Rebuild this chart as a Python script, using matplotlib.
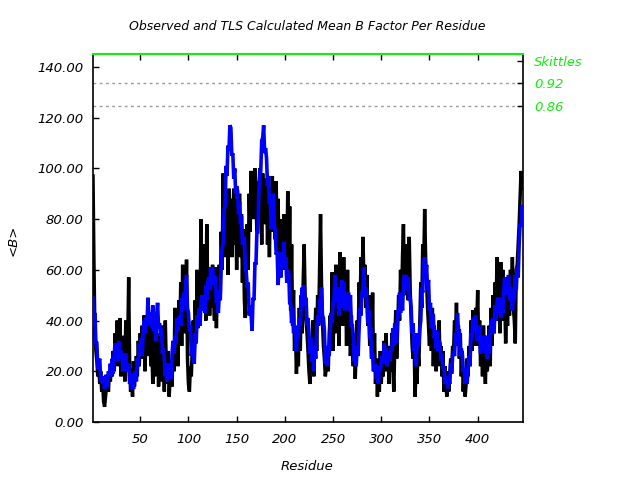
import matplotlib
matplotlib.use("Agg")
import matplotlib.pyplot as plt
import numpy as np

# TLS calculated mean B per residue (blue)
tls_b = [
    49, 38, 43, 31, 31, 21, 24, 25, 16, 18,
    15, 18, 13, 18, 18, 14, 20, 18, 23, 18,
    25, 19, 27, 31, 25, 30, 24, 32, 25, 28,
    27, 20, 27, 23, 27, 20, 22, 23, 15, 17,
    13, 19, 13, 19, 20, 16, 25, 22, 31, 26,
    33, 26, 35, 40, 35, 41, 38, 49, 39, 41,
    43, 37, 46, 36, 40, 32, 42, 47, 37, 39,
    34, 37, 27, 29, 25, 18, 23, 16, 23, 17,
    23, 17, 27, 32, 27, 34, 31, 41, 36, 40,
    42, 38, 49, 44, 51, 46, 54, 58, 45, 43,
    36, 38, 26, 31, 27, 23, 35, 31, 42, 37,
    45, 38, 47, 50, 44, 49, 43, 54, 48, 55,
    57, 52, 61, 55, 61, 54, 57, 57, 47, 49,
    43, 52, 48, 63, 69, 70, 84, 85, 101, 97,
    109, 107, 117, 116, 105, 106, 96, 100, 90, 93,
    91, 82, 87, 78, 81, 70, 72, 73, 60, 59,
    53, 55, 42, 46, 42, 36, 49, 48, 63, 62,
    75, 75, 90, 99, 99, 111, 112, 117, 106, 108,
    104, 93, 97, 86, 87, 76, 84, 90, 77, 76,
    66, 67, 54, 62, 61, 57, 67, 62, 71, 61,
    65, 55, 60, 59, 47, 47, 39, 45, 35, 37,
    36, 28, 38, 33, 41, 38, 47, 53, 48, 54,
    46, 49, 38, 41, 35, 27, 33, 24, 30, 20,
    29, 25, 36, 42, 39, 48, 48, 53, 42, 41,
    36, 23, 27, 22, 30, 26, 36, 43, 39, 47,
    48, 58, 48, 53, 49, 42, 53, 45, 56, 49,
    55, 44, 49, 50, 45, 51, 44, 50, 38, 38,
    34, 24, 30, 22, 30, 26, 37, 45, 42, 51,
    52, 61, 49, 53, 49, 39, 44, 33, 37, 25,
    27, 20, 22, 23, 17, 19, 15, 22, 20, 24,
    26, 23, 31, 26, 29, 22, 26, 28, 24, 29,
    28, 37, 30, 39, 35, 31, 44, 41, 51, 43,
    50, 44, 54, 58, 52, 58, 52, 57, 48, 49,
    45, 35, 39, 28, 31, 22, 29, 35, 30, 37,
    40, 53, 51, 63, 65, 57, 62, 52, 56, 44,
    47, 37, 42, 42, 33, 36, 29, 36, 28, 32,
    31, 24, 27, 21, 22, 15, 17, 18, 13, 17,
    15, 23, 19, 26, 28, 26, 35, 32, 43, 36,
    36, 26, 29, 27, 20, 21, 15, 21, 15, 21,
    26, 22, 35, 33, 41, 36, 41, 42, 32, 35,
    33, 38, 27, 33, 33, 29, 34, 27, 34, 25,
    33, 27, 36, 40, 35, 41, 35, 46, 40, 47,
    49, 43, 49, 41, 47, 43, 52, 57, 50, 56,
    53, 58, 48, 53, 49, 44, 52, 48, 58, 52,
    61, 57, 70, 78, 77, 85,
]

# Observed mean B per residue (black)
obs_b = [
    97, 62, 35, 28, 24, 18, 22, 15, 20, 12,
    16, 8, 6, 10, 14, 18, 12, 20, 16, 22,
    18, 28, 20, 35, 24, 40, 22, 32, 41, 18,
    28, 20, 34, 16, 40, 24, 30, 57, 22, 12,
    18, 10, 24, 14, 20, 26, 18, 32, 22, 35,
    25, 38, 28, 42, 20, 37, 30, 45, 26, 38,
    22, 30, 15, 36, 18, 42, 24, 35, 14, 28,
    20, 38, 16, 30, 12, 40, 22, 15, 28, 10,
    18, 24, 14, 30, 20, 45, 28, 38, 22, 48,
    34, 55, 30, 62, 40, 58, 35, 64, 25, 15,
    12, 22, 18, 30, 40, 25, 48, 35, 60, 42,
    55, 38, 80, 50, 62, 45, 70, 40, 78, 52,
    60, 42, 58, 45, 62, 50, 40, 61, 37, 55,
    45, 62, 50, 75, 60, 98, 70, 90, 65, 85,
    58, 92, 75, 88, 65, 80, 92, 70, 85, 60,
    88, 72, 90, 65, 82, 55, 76, 48, 41, 62,
    78, 60, 90, 75, 99, 82, 95, 80, 100, 88,
    75, 95, 85, 100, 90, 70, 98, 85, 92, 78,
    96, 70, 88, 65, 92, 75, 97, 80, 90, 72,
    95, 70, 88, 62, 80, 58, 75, 65, 82, 60,
    78, 62, 91, 55, 85, 44, 70, 38, 52, 28,
    35, 19, 30, 22, 45, 28, 50, 35, 55, 70,
    50, 40, 35, 28, 20, 15, 30, 22, 40, 18,
    32, 45, 28, 50, 38, 60, 82, 55, 40, 30,
    25, 18, 22, 28, 20, 35, 42, 30, 59, 28,
    45, 35, 62, 40, 55, 30, 67, 45, 58, 38,
    65, 42, 55, 30, 60, 38, 50, 26, 42, 30,
    22, 35, 17, 28, 40, 32, 55, 45, 65, 50,
    73, 55, 62, 45, 58, 38, 50, 30, 42, 25,
    51, 20, 35, 15, 25, 10, 22, 12, 28, 15,
    25, 18, 32, 20, 35, 22, 28, 15, 30, 20,
    35, 22, 12, 30, 44, 25, 38, 50, 40, 60,
    45, 65, 78, 50, 70, 55, 65, 48, 73, 52,
    40, 30, 25, 35, 10, 20, 15, 28, 22, 40,
    55, 45, 70, 60, 84, 65, 55, 45, 38, 30,
    42, 28, 45, 22, 38, 30, 20, 35, 25, 40,
    22, 30, 18, 28, 12, 22, 15, 10, 20, 12,
    18, 25, 20, 30, 28, 40, 35, 47, 30, 38,
    25, 35, 18, 28, 12, 20, 10, 15, 25, 18,
    30, 22, 40, 28, 44, 35, 30, 45, 38, 52,
    30, 40, 22, 35, 18, 38, 25, 15, 32, 20,
    28, 38, 22, 45, 30, 50, 35, 55, 40, 65,
    48, 55, 35, 63, 45, 60, 40, 50, 31, 45,
    38, 55, 42, 60, 50, 65, 45, 40, 31, 60,
    62, 70, 78, 88, 99, 92,
]

residues = np.arange(1, len(tls_b) + 1)

skittle_levels = [133.7, 124.6]
skittle_labels = ["0.92", "0.86"]
skittle_title = "Skittles"
skittle_title_level = 142.5

x_ticks = [50, 100, 150, 200, 250, 300, 350, 400]
y_ticks = [0, 20, 40, 60, 80, 100, 120, 140]

green = "#11ee11"
fs = 9.5

fig = plt.figure(figsize=(6.4, 4.8), dpi=100)
ax = fig.add_axes([93 / 640, 58 / 480, 430 / 640, 368 / 480])

ax.plot(residues, obs_b, color="black", lw=2.5, solid_joinstyle="miter", zorder=3)
ax.plot(residues, tls_b, color="#0000ff", lw=2.6, solid_joinstyle="miter", zorder=4)

for lv in skittle_levels:
    ax.axhline(lv, color="#999999", lw=1.0, ls=(0, (2, 2.5)), zorder=2)

ax.set_xlim(1, 447)
ax.set_ylim(0, 145.1)
ax.set_xticks(x_ticks)
ax.set_xticklabels([str(t) for t in x_ticks], fontsize=fs, style="italic")
ax.set_yticks(y_ticks)
ax.set_yticklabels([f"{t:.2f}" for t in y_ticks], fontsize=fs, style="italic")
ax.tick_params(axis="both", direction="in", length=4, width=1,
               top=True, right=True)
ax.tick_params(axis="x", pad=8)
ax.tick_params(axis="y", pad=7)
for s in ax.spines.values():
    s.set_linewidth(1.2)
ax.spines["top"].set_color(green)
ax.spines["top"].set_linewidth(1.5)

ax2 = ax.twinx()
ax2.set_ylim(ax.get_ylim())
ax2.set_yticks([skittle_title_level] + skittle_levels)
ax2.set_yticklabels([skittle_title] + skittle_labels, fontsize=fs,
                    style="italic", color=green)
ax2.tick_params(axis="y", direction="in", length=4, width=1, pad=8)
for s in ax2.spines.values():
    s.set_visible(False)

fig.text(307 / 640, 1 - 27 / 480, "Observed and TLS Calculated Mean B Factor Per Residue",
         ha="center", va="center", fontsize=9, style="italic")
fig.text(307 / 640, 1 - 467 / 480, "Residue", ha="center", va="center",
         fontsize=fs, style="italic")
fig.text(13 / 640, 1 - 240 / 480, "<B>", ha="center", va="center",
         fontsize=fs, style="italic", rotation=90)

fig.savefig("out.png", dpi=100)
